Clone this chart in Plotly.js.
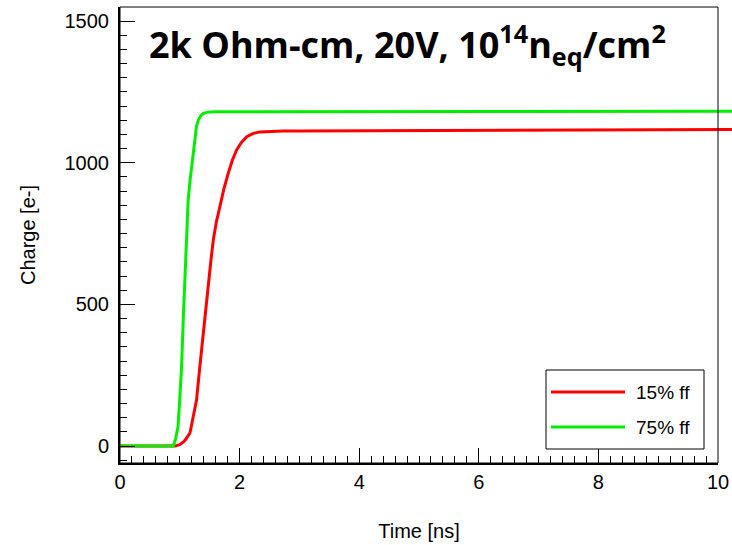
<!DOCTYPE html>
<html>
<head>
<meta charset="utf-8">
<script src="https://cdn.plot.ly/plotly-3.0.1.min.js"></script>
<style>html,body{margin:0;padding:0;background:#fff;}#chart{width:732px;height:545px;}</style>
</head>
<body>
<div id="chart"></div>
<script>
// Time [ns]
const time15 = [0, 0.5, 0.92, 1.0, 1.08, 1.17, 1.22, 1.28, 1.33, 1.39, 1.44, 1.48, 1.52, 1.56, 1.61, 1.67, 1.74, 1.81, 1.88, 1.95, 2.03, 2.12, 2.22, 2.34, 2.5, 2.73, 3.0, 4.0, 5.0, 6.0, 7.0, 8.0, 9.0, 10.0, 10.3];
const charge15 = [0, 0, 0, 5, 18, 46, 95, 162, 270, 399, 500, 575, 655, 727, 790, 845, 910, 963, 1010, 1045, 1072, 1092, 1103, 1109, 1111, 1112, 1112, 1113, 1114, 1115, 1115, 1116, 1116, 1117, 1118];
const time75 = [0, 0.5, 0.89, 0.93, 0.97, 1.0, 1.03, 1.06, 1.09, 1.12, 1.14, 1.17, 1.20, 1.23, 1.25, 1.28, 1.31, 1.35, 1.39, 1.45, 1.56, 2.0, 3.0, 4.0, 5.0, 6.0, 7.0, 8.0, 9.0, 10.0, 10.3];
const charge75 = [0, 0, 0, 25, 68, 170, 280, 460, 633, 780, 868, 935, 986, 1050, 1092, 1130, 1151, 1166, 1174, 1178, 1180, 1180, 1180, 1181, 1181, 1181, 1181, 1182, 1182, 1182, 1182];
const seriesNames = ["15% ff", "75% ff"];
const seriesColors = ["#ff0000", "#00ee00"];
const xTicks = [0, 2, 4, 6, 8, 10];
const yTicks = [0, 500, 1000, 1500];

const W = 732, H = 545;
const L = 120, R = 718, T = 7, B = 463;
const px = v => v / W;
const py = v => 1 - v / H;
const xRange = [0, 10];
const yRange = [-60, 1550];
const pxPerUnit = (R - L) / (xRange[1] - xRange[0]);
const dataXMax = (W - L) / pxPerUnit;

const traces = [
  {x: time15, y: charge15, type: 'scatter', mode: 'lines', name: seriesNames[0],
   line: {color: seriesColors[0], width: 3}, xaxis: 'x', yaxis: 'y', showlegend: false, hoverinfo: 'skip'},
  {x: time75, y: charge75, type: 'scatter', mode: 'lines', name: seriesNames[1],
   line: {color: seriesColors[1], width: 3}, xaxis: 'x', yaxis: 'y', showlegend: false, hoverinfo: 'skip'},
  {x: [0], y: [0], type: 'scatter', mode: 'markers', marker: {opacity: 0},
   xaxis: 'x2', yaxis: 'y2', showlegend: false, hoverinfo: 'skip'}
];

const tickFont = {family: 'Liberation Sans, Arial, sans-serif', size: 20, color: '#000'};

const layout = {
  width: W, height: H,
  margin: {l: 0, r: 0, t: 0, b: 0},
  paper_bgcolor: '#fff', plot_bgcolor: 'rgba(0,0,0,0)',
  showlegend: false,
  xaxis: {domain: [px(L), 1], range: [0, dataXMax], visible: false, fixedrange: true},
  yaxis: {domain: [py(B), py(T)], range: yRange, visible: false, anchor: 'x', fixedrange: true},
  xaxis2: {
    domain: [px(L), px(R)], range: xRange, anchor: 'y2',
    showgrid: false, zeroline: false, showline: true, linecolor: '#000', linewidth: 2,
    ticks: 'inside', ticklen: 15, tickwidth: 1, tickcolor: '#000',
    tickvals: xTicks, ticktext: xTicks.map(String), tickfont: tickFont,
    minor: {dtick: 0.2, tick0: 0, ticks: 'inside', ticklen: 7, tickwidth: 1, tickcolor: '#000', showgrid: false},
    title: {text: 'Time [ns]', font: tickFont, standoff: 32}
  },
  yaxis2: {
    domain: [py(B), py(T)], range: yRange, anchor: 'x2',
    showgrid: false, zeroline: false, showline: true, linecolor: '#000', linewidth: 2,
    ticks: 'inside', ticklen: 15, tickwidth: 1, tickcolor: '#000', ticklabelstandoff: 5,
    tickvals: yTicks, ticktext: yTicks.map(String), tickfont: tickFont,
    minor: {dtick: 50, tick0: 0, ticks: 'inside', ticklen: 7, tickwidth: 1, tickcolor: '#000', showgrid: false},
    title: {text: 'Charge [e-]', font: tickFont, standoff: 24}
  },
  shapes: [
    {type: 'rect', xref: 'paper', yref: 'paper', x0: px(L), x1: px(R), y0: py(B), y1: py(T),
     line: {color: '#000', width: 1}, fillcolor: 'rgba(0,0,0,0)', layer: 'above'},
    // legend box
    {type: 'rect', xref: 'paper', yref: 'paper', x0: px(546), x1: px(704), y0: py(449), y1: py(370),
     line: {color: '#000', width: 1}, fillcolor: '#fff', layer: 'above'},
    {type: 'line', xref: 'paper', yref: 'paper', x0: px(551), x1: px(625), y0: py(392), y1: py(392),
     line: {color: seriesColors[0], width: 3}, layer: 'above'},
    {type: 'line', xref: 'paper', yref: 'paper', x0: px(551), x1: px(625), y0: py(427), y1: py(427),
     line: {color: seriesColors[1], width: 3}, layer: 'above'}
  ],
  annotations: [
    {xref: 'paper', yref: 'paper', x: px(147), y: py(45), xanchor: 'left', yanchor: 'middle', showarrow: false,
     text: '2k Ohm-cm, 20V, 10<sup>14</sup>n<sub>eq</sub>/cm<sup>2</sup>',
     font: {family: 'Open Sans, sans-serif', size: 36, color: '#000', weight: 'bold'}},
    {xref: 'paper', yref: 'paper', x: px(692), y: py(392), xanchor: 'right', yanchor: 'middle', showarrow: false,
     text: seriesNames[0], font: {family: 'Liberation Sans, Arial, sans-serif', size: 19, color: '#000'}},
    {xref: 'paper', yref: 'paper', x: px(692), y: py(427), xanchor: 'right', yanchor: 'middle', showarrow: false,
     text: seriesNames[1], font: {family: 'Liberation Sans, Arial, sans-serif', size: 19, color: '#000'}}
  ]
};

Plotly.newPlot('chart', traces, layout, {staticPlot: true, displayModeBar: false});
</script>
</body>
</html>
